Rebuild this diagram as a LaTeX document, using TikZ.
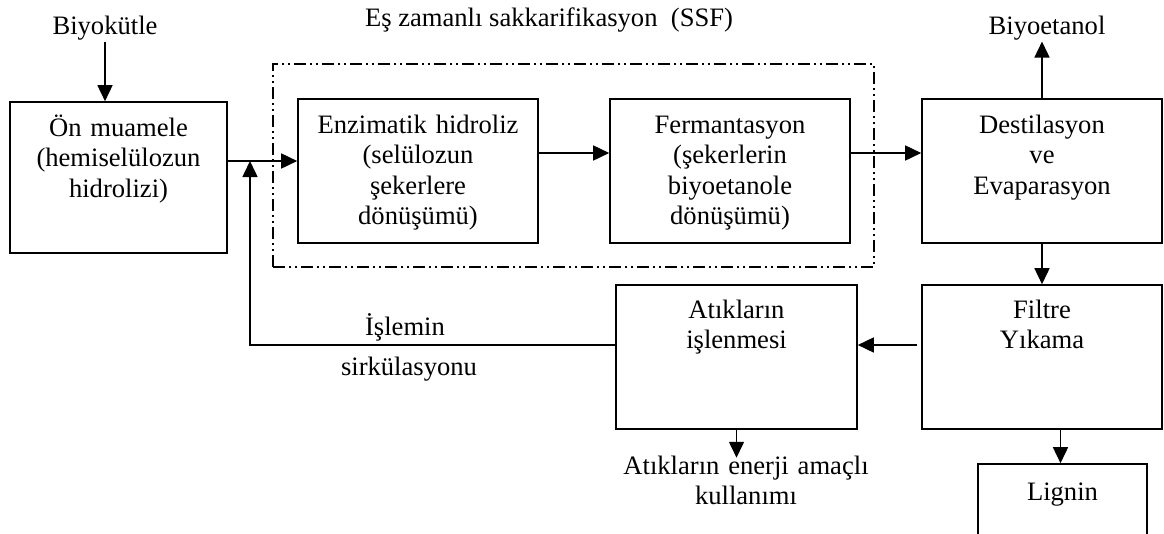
\documentclass[tikz,border=0pt]{standalone}
\usepackage{fontspec}
\setmainfont{Liberation Serif}
\usetikzlibrary{positioning,arrows.meta}
\tikzset{>={Triangle[length=16pt,width=15pt]}}

\begin{document}
\begin{tikzpicture}[x=1pt, y=-1pt, line width=1.6pt,
  font=\fontsize{26.6}{30.5}\selectfont,
  box/.style={draw, inner sep=0pt, align=center, anchor=base},
  lab/.style={inner sep=1pt, anchor=base, align=center},
  grp/.style={draw, line width=1.4pt, inner sep=0pt,
    dash pattern=on 12pt off 4pt on 2pt off 4pt on 2pt off 4pt}]
\clip (0,0) rectangle (1164,533);
\node[grp, minimum width=601pt, minimum height=203pt] (ssf) at (573.5,165.5) {};
\node[box, text width=217pt, text height=34pt, text depth=117pt] (om) at (118.5,136) {Ön muamele \\ (hemiselülozun \\ hidrolizi)};
\node[box, text width=240pt, text height=34pt, text depth=110pt] (enz) at (418,133) {Enzimatik hidroliz \\ (selülozun \\ şekerlere \\ dönüşümü)};
\node[box, text width=240pt, text height=34pt, text depth=110pt] (ferm) at (730,133) {Fermantasyon \\ (şekerlerin \\ biyoetanole \\ dönüşümü)};
\node[box, text width=240pt, text height=34pt, text depth=110pt] (dest) at (1042,133) {Destilasyon \\ ve \\ Evaparasyon};
\node[box, text width=241pt, text height=33pt, text depth=111pt] (atik) at (736.5,318) {Atıkların \\ işlenmesi};
\node[box, text width=240pt, text height=33pt, text depth=111pt] (filt) at (1042,318) {Filtre \\ Yıkama};
\node[box, text width=169pt, text height=36pt, text depth=70pt] (lig) at (1062.5,500) {Lignin};
\node[lab] (bio) at (105,34) {Biyokütle};
\node[lab] (ssft) at (549,26) {Eş zamanlı sakkarifikasyon\ \ (SSF)};
\node[lab] (etanol) at (1047,34) {Biyoetanol};
\node[lab] (islem) at (405,335) {İşlemin};
\node[lab] (sirk) at (409,375) {sirkülasyonu};
\node[lab, text width=270pt] (enerji) at (746,474) {Atıkların enerji amaçlı \\ kullanımı};
\coordinate (mix) at (250,161);
\draw[->] (bio) -- (bio |- om.north);
\draw[->] (om.east |- mix) -- (enz.west |- mix);
\draw[->] ([yshift=18pt]enz.east) -- ([yshift=18pt]ferm.west);
\draw[->] ([yshift=18pt]ferm.east) -- ([yshift=18pt]dest.west);
\draw[->] (dest.north) -- (dest.north |- etanol.south);
\draw[->] (dest) -- (filt);
\draw[->, shorten <=4pt] ([yshift=12pt]filt.west) -- ([yshift=12pt]atik.east);
\draw[->] ([yshift=12pt]atik.west) -| (mix);
\draw[->, shorten >=-4pt] (atik.south) -- (atik.south |- enerji.north);
\draw[->] ([xshift=-2pt]lig.north |- filt.south) -- ([xshift=-2pt]lig.north);
\end{tikzpicture}
\end{document}
